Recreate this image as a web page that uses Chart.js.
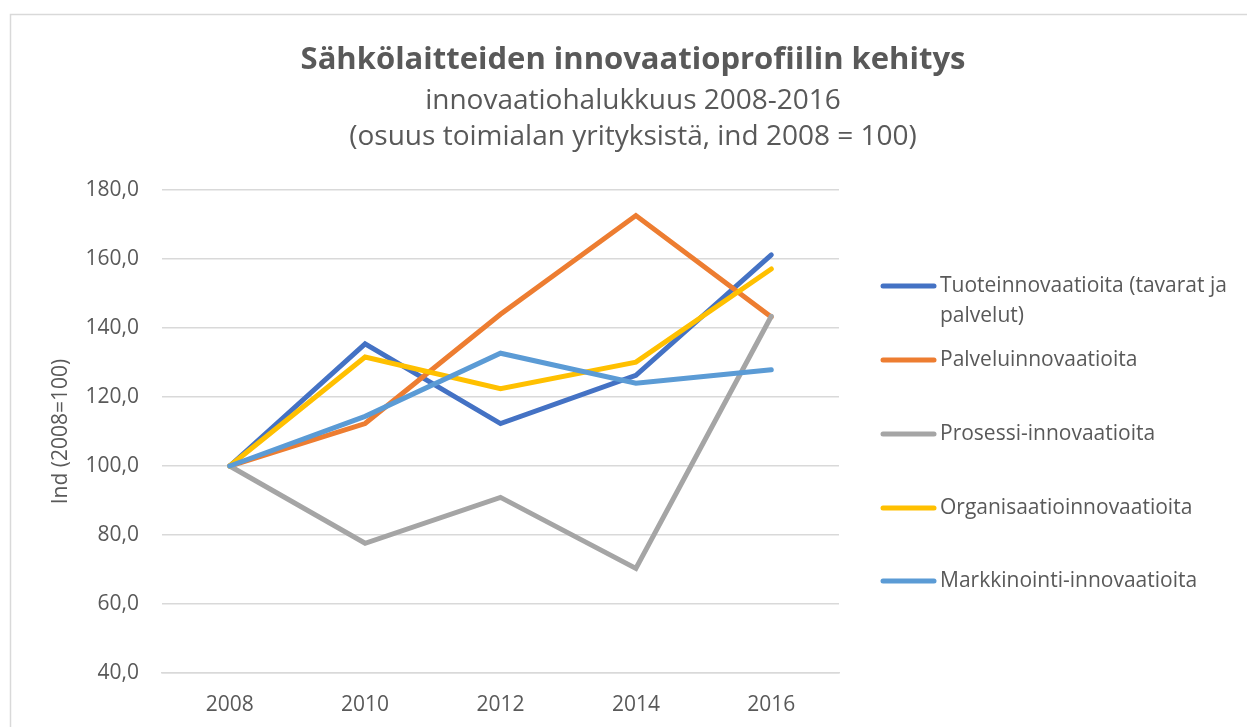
<!DOCTYPE html>
<html>
<head>
<meta charset="utf-8">
<script src="https://cdn.jsdelivr.net/npm/chart.js@4"></script>
<style>
  html, body { margin: 0; padding: 0; background: #fff; }
  #wrap { position: relative; width: 1247px; height: 727px; }
</style>
</head>
<body>
<div id="wrap"><canvas id="chart" width="1247" height="727"></canvas></div>
<script>
const years = ["2008", "2010", "2012", "2014", "2016"];
const tuote = [100, 135.4, 112.3, 126.3, 161.2];
const palvelu = [100, 112.3, 144.0, 172.6, 143.2];
const prosessi = [100, 77.6, 90.9, 70.3, 143.4];
const organisaatio = [100, 131.6, 122.4, 130.1, 157.1];
const markkinointi = [100, 114.4, 132.7, 124.0, 127.9];

const seriesNames = [
  "Tuoteinnovaatioita (tavarat ja palvelut)",
  "Palveluinnovaatioita",
  "Prosessi-innovaatioita",
  "Organisaatioinnovaatioita",
  "Markkinointi-innovaatioita"
];
const seriesValues = [tuote, palvelu, prosessi, organisaatio, markkinointi];
const colors = ["#4472C4", "#ED7D31", "#A5A5A5", "#FFC000", "#5B9BD5"];

const titleText = "Sähkölaitteiden innovaatioprofiilin kehitys";
const subtitleLines = ["innovaatiohalukkuus 2008-2016", "(osuus toimialan yrityksistä, ind 2008 = 100)"];
const yTitle = "Ind (2008=100)";

const textColor = "#595959";
const font = "'Open Sans', 'DejaVu Sans', sans-serif";

// titles, frame and legend drawn by hand so the positions stay fixed
const decor = {
  id: "decor",
  beforeDraw(chart) {
    const c = chart.ctx;
    c.save();
    c.fillStyle = "#fff";
    c.fillRect(0, 0, chart.width, chart.height);
    c.strokeStyle = "#d9d9d9";
    c.lineWidth = 1.5;
    c.strokeRect(10.5, 14.5, chart.width + 20, chart.height + 20);
    c.restore();
  },
  afterDraw(chart) {
    const c = chart.ctx;
    c.save();
    c.fillStyle = textColor;
    c.textAlign = "center";
    c.textBaseline = "middle";
    c.font = "bold 31px " + font;
    c.fillText(titleText, 633, 60);
    c.font = "28px " + font;
    c.fillText(subtitleLines[0], 633, 101);
    c.fillText(subtitleLines[1], 633, 137);

    // legend
    const items = chart.data.datasets;
    const rowY = [286, 360, 434, 508, 581];
    c.textAlign = "left";
    c.font = "21px " + font;
    items.forEach((ds, i) => {
      const y = rowY[i];
      c.strokeStyle = ds.borderColor;
      c.lineWidth = 5;
      c.lineCap = "round";
      c.beginPath();
      c.moveTo(883, y);
      c.lineTo(934, y);
      c.stroke();
      c.fillStyle = textColor;
      // wrap long labels
      const words = ds.label.split(" ");
      const lines = [];
      let cur = "";
      words.forEach(w => {
        const t = cur ? cur + " " + w : w;
        if (c.measureText(t).width > 300 && cur) { lines.push(cur); cur = w; }
        else cur = t;
      });
      lines.push(cur);
      lines.forEach((ln, k) => c.fillText(ln, 940, y + k * 30));
    });
    c.restore();
  }
};

new Chart(document.getElementById("chart"), {
  type: "line",
  data: {
    labels: years,
    datasets: seriesValues.map((vals, i) => ({
      label: seriesNames[i],
      data: vals,
      borderColor: colors[i],
      backgroundColor: colors[i],
      borderWidth: 5,
      borderCapStyle: "round",
      borderJoinStyle: "miter",
      pointRadius: 0,
      tension: 0,
      order: seriesValues.length - i
    }))
  },
  options: {
    responsive: false,
    animation: false,
    layout: { padding: { left: 10, top: 190, right: 408, bottom: 0 } },
    plugins: {
      legend: { display: false },
      title: { display: false },
      tooltip: { enabled: false }
    },
    scales: {
      x: {
        offset: true,
        grid: { display: false, drawTicks: false },
        border: { display: true, color: "#d9d9d9", width: 1.5 },
        ticks: { color: textColor, font: { family: font, size: 21 }, padding: 19 },
        afterFit(scale) { scale.height = 54; }
      },
      y: {
        min: 40,
        max: 180,
        ticks: {
          stepSize: 20,
          color: textColor,
          font: { family: font, size: 21 },
          padding: 23,
          callback: v => v.toFixed(1).replace(".", ",")
        },
        grid: { color: "#d9d9d9", lineWidth: 1.5, drawTicks: false },
        border: { display: false },
        title: {
          display: true,
          text: yTitle,
          color: textColor,
          font: { family: font, size: 21 },
          padding: { top: 38, bottom: 0 }
        },
        afterFit(scale) { scale.width = 152; }
      }
    }
  },
  plugins: [decor]
});
</script>
</body>
</html>
